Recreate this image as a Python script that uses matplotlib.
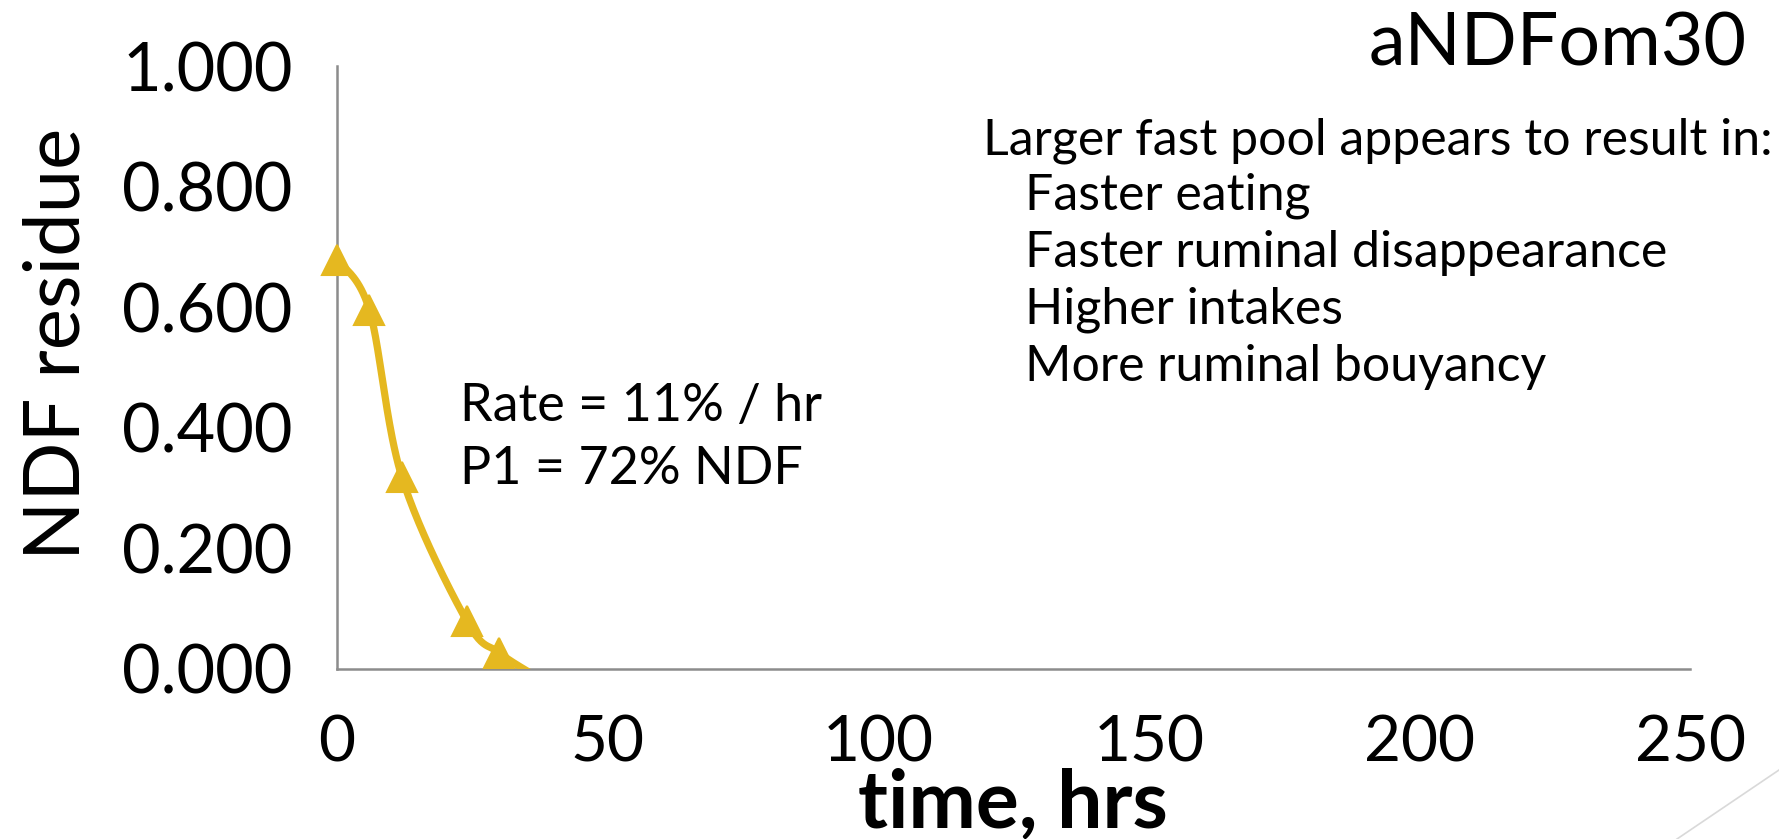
import numpy as np
import matplotlib
matplotlib.use("Agg")
import matplotlib.pyplot as plt
from matplotlib.lines import Line2D

plt.rcParams['font.family'] = ['Lato', 'DejaVu Sans']

# Residue measurements (fraction of NDF remaining) at each sampling time
time_hrs = [0, 6, 12, 24, 30, 36]
ndf_residue = [0.679, 0.595, 0.318, 0.079, 0.027, -0.008]

x_ticks = [0, 50, 100, 150, 200, 250]
y_ticks = [0.0, 0.2, 0.4, 0.6, 0.8, 1.0]

title_text = "aNDFom30"
fit_notes = ["Rate = 11% / hr", "P1 = 72% NDF"]
heading = "Larger fast pool appears to result in:"
effects = ["Faster eating", "Faster ruminal disappearance",
           "Higher intakes", "More ruminal bouyancy"]

GOLD = "#E5B820"
AXIS_GREY = "#8C8C8C"

W, H = 1779, 839
fig = plt.figure(figsize=(W / 100, H / 100), dpi=100)
ax = fig.add_axes([337 / W, 1 - 669 / H, (1690 - 337) / W, (669 - 66) / H])


def smooth_curve(x, y, xr, yr, n=40):
    """Catmull-Rom smoothing through the points (in axis-normalised space)."""
    px = np.asarray(x, float) / xr
    py = np.asarray(y, float) / yr
    P = np.column_stack([px, py])
    P = np.vstack([P[0], P, P[-1]])
    out = []
    for i in range(1, len(P) - 2):
        p0, p1, p2, p3 = P[i - 1], P[i], P[i + 1], P[i + 2]
        c1 = p1 + (p2 - p0) / 6.0
        c2 = p2 - (p3 - p1) / 6.0
        t = np.linspace(0, 1, n)[:, None]
        seg = ((1 - t) ** 3) * p1 + 3 * ((1 - t) ** 2) * t * c1 \
            + 3 * (1 - t) * t ** 2 * c2 + t ** 3 * p2
        out.append(seg if i == 1 else seg[1:])
    out = np.vstack(out)
    return out[:, 0] * xr, out[:, 1] * yr


sx, sy = smooth_curve(time_hrs, ndf_residue, 250.0, 1.0)
ax.plot(sx, sy, color=GOLD, lw=5.2, solid_capstyle='butt', solid_joinstyle='round', zorder=3)

vis = [(t, v) for t, v in zip(time_hrs, ndf_residue) if v >= 0]
ax.plot([t for t, _ in vis], [v for _, v in vis], linestyle='none', marker='^',
        markersize=22, color=GOLD, markeredgecolor=GOLD, markeredgewidth=1.5,
        zorder=4, clip_on=False)

ax.set_xlim(0, 250)
ax.set_ylim(0, 1)
ax.set_xticks(x_ticks)
ax.set_xticklabels([str(v) for v in x_ticks])
ax.set_yticks(y_ticks)
ax.set_yticklabels([f"{v:.3f}" for v in y_ticks])
ax.tick_params(axis='both', length=0, labelsize=46, colors='black')
ax.tick_params(axis='y', pad=32, labelsize=48)
ax.tick_params(axis='x', pad=33)

for side in ('top', 'right'):
    ax.spines[side].set_visible(False)
for side in ('left', 'bottom'):
    ax.spines[side].set_color(AXIS_GREY)
    ax.spines[side].set_linewidth(1.8)

# Axis titles
fig.text(58 / W, 1 - 344 / H, "NDF residue", rotation=90, ha='center', va='center',
         fontsize=56)
fig.text(1013 / W, 1 - 804 / H, "time, hrs", ha='center', va='center',
         fontsize=58, fontweight='bold')

# Chart title
fig.text(1747 / W, 1 - 45 / H, title_text, ha='right', va='center', fontsize=53)

# Fit annotations
for i, s in enumerate(fit_notes):
    fig.text(460 / W, 1 - (406 + 64 * i) / H, s, ha='left', va='center', fontsize=37.5)

# Observations block
fig.text(983 / W, 1 - 141 / H, heading, ha='left', va='center', fontsize=36)
for i, s in enumerate(effects):
    fig.text(1025 / W, 1 - (196 + 57 * i) / H, s, ha='left', va='center', fontsize=36)

# Slide corner decoration
fig.add_artist(Line2D([1677 / W, 1.0], [0.0, 1 - 770 / H], transform=fig.transFigure,
                      color="#D9D9D9", lw=1.2))

fig.savefig("out.png", dpi=100)
